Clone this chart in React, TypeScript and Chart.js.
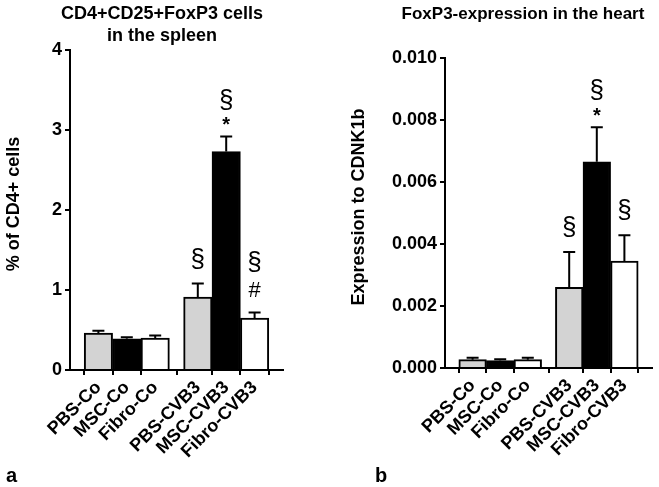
import React, { useEffect, useRef } from "react";
import { Chart, registerables } from "chart.js";
Chart.register(...registerables);

const FONT = "'Liberation Sans', Arial, Helvetica, sans-serif";

const categories = ["PBS-Co", "MSC-Co", "Fibro-Co", "PBS-CVB3", "MSC-CVB3", "Fibro-CVB3"];
const groupIndex = [0, 0, 0, 1, 1, 1];
const barColors = ["#d3d3d3", "#000000", "#ffffff", "#d3d3d3", "#000000", "#ffffff"];

const spleenValues = [0.46, 0.39, 0.4, 0.91, 2.73, 0.65];
const spleenErrors = [0.03, 0.02, 0.03, 0.17, 0.19, 0.07];
const spleenMarks = [[], [], [], ["§"], ["*", "§"], ["#", "§"]];
const spleenTicks = [0, 1, 2, 3, 4];

const heartValues = [0.00027, 0.00024, 0.00027, 0.0026, 0.00665, 0.00345];
const heartErrors = [0.00006, 0.00004, 0.00006, 0.00114, 0.00112, 0.00083];
const heartMarks = [[], [], [], ["§"], ["*", "§"], ["§"]];
const heartTicks = [0, 0.002, 0.004, 0.006, 0.008, 0.01];

const xPositions = categories.map((_, i) => i + 0.5 * groupIndex[i]);

type PanelProps = {
  left: number;
  width: number;
  values: number[];
  errors: number[];
  marks: string[][];
  yTicks: number[];
  decimals: number;
  titleLines: string[];
  titleX: number;
  titleSize: number;
  yTitle: string;
  yTitleX: number;
  letter: string;
  letterX: number;
  area: { left: number; right: number; top: number; bottom: number };
};

function Panel(p: PanelProps) {
  const ref = useRef<HTMLCanvasElement>(null);
  useEffect(() => {
    const H = 487;
    const symH: Record<string, number> = { "*": 12, "§": 32, "#": 26 };
    const symFont: Record<string, string> = {
      "*": `bold 20px ${FONT}`,
      "§": `26px ${FONT}`,
      "#": `22px ${FONT}`,
    };
    const overlay = {
      id: "overlay",
      afterDatasetsDraw(chart: any) {
        const ctx = chart.ctx;
        const meta = chart.getDatasetMeta(0);
        const ys = chart.scales.y;
        ctx.save();
        ctx.strokeStyle = "#000";
        ctx.lineWidth = 2;
        meta.data.forEach((el: any, i: number) => {
          const top = ys.getPixelForValue(p.values[i] + p.errors[i]);
          ctx.beginPath();
          ctx.moveTo(el.x, el.y);
          ctx.lineTo(el.x, top);
          ctx.moveTo(el.x - 6, top);
          ctx.lineTo(el.x + 6, top);
          ctx.stroke();
          let cursor = top - 8;
          ctx.fillStyle = "#000";
          ctx.textAlign = "center";
          ctx.textBaseline = "middle";
          p.marks[i].forEach((m) => {
            const h = symH[m] || 26;
            ctx.font = symFont[m] || `22px ${FONT}`;
            ctx.fillText(m, el.x, cursor - h / 2 + (m === "*" ? 3 : 0));
            cursor -= h;
          });
        });
        ctx.restore();
      },
      afterDraw(chart: any) {
        const ctx = chart.ctx;
        const ca = chart.chartArea;
        ctx.save();
        ctx.fillStyle = "#000";
        ctx.textAlign = "center";
        ctx.textBaseline = "middle";
        ctx.font = `bold ${p.titleSize}px ${FONT}`;
        p.titleLines.forEach((t, k) => ctx.fillText(t, p.titleX, 14 + k * 22));
        ctx.font = `bold 18px ${FONT}`;
        ctx.save();
        ctx.translate(p.yTitleX, (ca.top + ca.bottom) / 2 - 6);
        ctx.rotate(-Math.PI / 2);
        ctx.fillText(p.yTitle, 0, 0);
        ctx.restore();
        ctx.textAlign = "left";
        ctx.textBaseline = "alphabetic";
        ctx.font = `bold 20px ${FONT}`;
        ctx.fillText(p.letter, p.letterX, 482);
        ctx.restore();
      },
    };
    const tickFont = { family: FONT, size: 18, weight: "bold" as const };
    const chart = new Chart(ref.current as HTMLCanvasElement, {
      type: "bar",
      data: {
        datasets: [
          {
            data: p.values.map((v, i) => ({ x: xPositions[i], y: v })),
            backgroundColor: barColors,
            borderColor: "#000",
            borderWidth: 2,
            barPercentage: 1,
            categoryPercentage: 1,
          },
        ],
      },
      options: {
        responsive: false,
        animation: false,
        events: [],
        layout: {
          padding: {
            left: 0,
            top: p.area.top,
            right: p.width - p.area.right,
            bottom: 0,
          },
        },
        plugins: { legend: { display: false }, tooltip: { enabled: false }, title: { display: false } },
        scales: {
          x: {
            type: "linear",
            offset: false,
            min: -1,
            max: 6.5,
            afterBuildTicks: (s: any) => {
              s.ticks = xPositions.map((v) => ({ value: v }));
            },
            afterFit: (s: any) => {
              s.height = H - p.area.bottom;
            },
            ticks: {
              autoSkip: false,
              minRotation: 45,
              maxRotation: 45,
              padding: 2,
              color: "#000",
              font: tickFont,
              callback: (_v: any, i: number) => categories[i],
            },
            grid: { display: true, drawOnChartArea: false, drawTicks: true, tickLength: 5, lineWidth: 2, color: "#000" },
            border: { display: true, color: "#000", width: 2 },
          },
          y: {
            type: "linear",
            min: p.yTicks[0],
            max: p.yTicks[p.yTicks.length - 1],
            afterBuildTicks: (s: any) => {
              s.ticks = p.yTicks.map((v) => ({ value: v }));
            },
            afterFit: (s: any) => {
              s.width = p.area.left;
            },
            ticks: {
              padding: 3,
              color: "#000",
              font: tickFont,
              callback: (v: any) => Number(v).toFixed(p.decimals),
            },
            grid: { display: true, drawOnChartArea: false, drawTicks: true, tickLength: 5, lineWidth: 2, color: "#000" },
            border: { display: true, color: "#000", width: 2 },
          },
        },
      },
      plugins: [overlay],
    });
    return () => chart.destroy();
  }, []);
  return (
    <canvas
      ref={ref}
      width={p.width}
      height={487}
      style={{ position: "absolute", left: p.left, top: 0, width: p.width, height: 487 }}
    />
  );
}

export default function App() {
  return (
    <div style={{ position: "fixed", left: 0, top: 0, width: 659, height: 487, background: "#fff", overflow: "hidden" }}>
      <Panel
        left={0}
        width={330}
        values={spleenValues}
        errors={spleenErrors}
        marks={spleenMarks}
        yTicks={spleenTicks}
        decimals={0}
        titleLines={["CD4+CD25+FoxP3 cells", "in the spleen"]}
        titleX={162}
        titleSize={18}
        yTitle="% of CD4+ cells"
        yTitleX={14}
        letter="a"
        letterX={6}
        area={{ left: 70, right: 283, top: 50, bottom: 370 }}
      />
      <Panel
        left={330}
        width={329}
        values={heartValues}
        errors={heartErrors}
        marks={heartMarks}
        yTicks={heartTicks}
        decimals={3}
        titleLines={["FoxP3-expression in the heart"]}
        titleX={193}
        titleSize={17}
        yTitle="Expression to CDNK1b"
        yTitleX={29}
        letter="b"
        letterX={45}
        area={{ left: 115, right: 322, top: 58, bottom: 368 }}
      />
    </div>
  );
}
